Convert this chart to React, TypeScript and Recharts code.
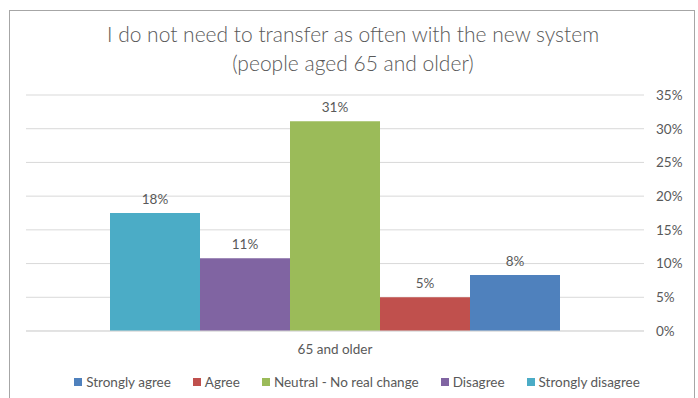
import React from "react"
import { BarChart, Bar, XAxis, YAxis, CartesianGrid, LabelList } from "recharts"

const categories = ["65 and older"]
const seriesNames = ["Strongly disagree", "Disagree", "Neutral - No real change", "Agree", "Strongly agree"]
const seriesKeys = ["sd", "d", "n", "a", "sa"]
const seriesColors = ["#4bacc6", "#8064a2", "#9bbb59", "#c0504d", "#4f81bd"]
const seriesValues = [17.5, 10.8, 31.1, 5.0, 8.3]
const yTicks = [0, 5, 10, 15, 20, 25, 30, 35]
// legend reads in the reverse order of the bars
const legendOrder = [4, 3, 2, 1, 0]

const FONT = "Lato, 'Open Sans', sans-serif"
const TEXT = "#595959"

const data = categories.map((name) => {
  const row: Record<string, any> = { name }
  seriesKeys.forEach((k, i) => {
    row[k] = seriesValues[i]
  })
  return row
})

function LegendContent() {
  return (
    <div
      style={{
        position: "absolute",
        left: 8,
        top: 374,
        width: 698,
        display: "flex",
        justifyContent: "center",
        gap: 22,
        fontFamily: FONT,
        fontSize: 13.5,
        color: TEXT,
      }}
    >
      {legendOrder.map((i) => (
        <div key={seriesKeys[i]} style={{ display: "flex", alignItems: "center", gap: 4 }}>
          <span style={{ width: 8, height: 8, background: seriesColors[i], display: "inline-block" }} />
          <span>{seriesNames[i]}</span>
        </div>
      ))}
    </div>
  )
}

export default function App() {
  return (
    <div style={{ position: "absolute", left: 0, top: 0, width: 698, height: 398, overflow: "hidden", background: "#fff" }}>
      <div
        style={{
          position: "absolute",
          left: 9,
          top: 10,
          width: 684,
          height: 420,
          border: "1.5px solid #a6a6a6",
        }}
      />
      <div
        style={{
          position: "absolute",
          left: 4,
          top: 19,
          width: 698,
          textAlign: "center",
          fontFamily: FONT,
          fontSize: 21,
          fontWeight: 300,
          lineHeight: "29px",
          color: TEXT,
        }}
      >
        <div>I do not need to transfer as often with the new system</div>
        <div>(people aged 65 and older)</div>
      </div>
      <div style={{ position: "absolute", left: 0, top: 0 }}>
        <BarChart
          width={698}
          height={398}
          data={data}
          margin={{ top: 95, right: 4, bottom: 37, left: 26 }}
          barCategoryGap={84}
          barGap={0}
        >
          <CartesianGrid vertical={false} stroke="#d9d9d9" />
          <XAxis
            dataKey="name"
            tickLine={false}
            axisLine={{ stroke: "#d9d9d9" }}
            tickSize={0}
            tickMargin={13}
            tick={{ fill: TEXT, fontSize: 13.5, fontFamily: FONT }}
            height={30}
          />
          <YAxis
            orientation="right"
            width={50}
            domain={[0, 35]}
            ticks={yTicks}
            tickFormatter={(v) => `${v}%`}
            axisLine={false}
            tickLine={false}
            tickSize={0}
            tickMargin={12}
            tick={{ fill: TEXT, fontSize: 13.5, fontFamily: FONT, textAnchor: "start" }}
          />
          {seriesKeys.map((k, i) => (
            <Bar key={k} dataKey={k} name={seriesNames[i]} fill={seriesColors[i]} isAnimationActive={false}>
              <LabelList
                dataKey={k}
                position="top"
                offset={9}
                formatter={(v: any) => `${Math.round(Number(v))}%`}
                style={{ fill: TEXT, fontSize: 13.5, fontFamily: FONT }}
              />
            </Bar>
          ))}
        </BarChart>
      </div>
      <LegendContent />
    </div>
  )
}
